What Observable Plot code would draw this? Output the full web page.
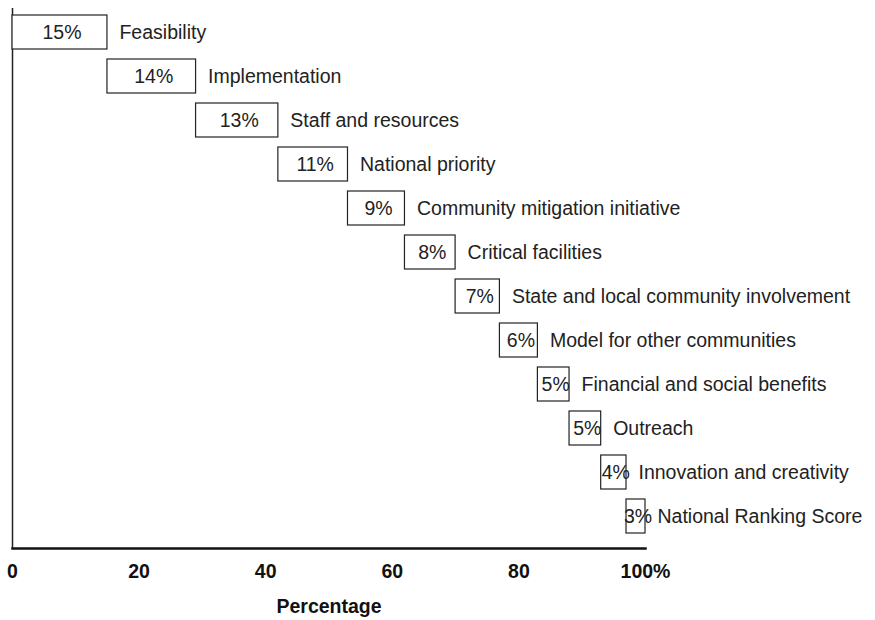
<!DOCTYPE html>
<html>
<head>
<meta charset="utf-8">
<script src="https://cdn.jsdelivr.net/npm/d3@7"></script>
<script src="https://cdn.jsdelivr.net/npm/@observablehq/plot@0.6"></script>
<style>
  html, body { margin: 0; padding: 0; background: #fff; }
</style>
</head>
<body>
<div id="chart"></div>
<script>
const labels = [
  "Feasibility",
  "Implementation",
  "Staff and resources",
  "National priority",
  "Community mitigation initiative",
  "Critical facilities",
  "State and local community involvement",
  "Model for other communities",
  "Financial and social benefits",
  "Outreach",
  "Innovation and creativity",
  "National Ranking Score"
];
const values = [15, 14, 13, 11, 9, 8, 7, 6, 5, 5, 4, 3];
const xTicks = [0, 20, 40, 60, 80, 100];

const rows = labels.map((label, i) => ({
  label,
  value: values[i],
  start: d3.sum(values.slice(0, i)),
  end: d3.sum(values.slice(0, i + 1))
}));

const chart = Plot.plot({
  width: 875,
  height: 620,
  marginLeft: 12,
  marginRight: 230,
  marginTop: 8,
  marginBottom: 72,
  style: { fontFamily: "'Liberation Sans', Arial, Helvetica, sans-serif", fontSize: "19.5px", background: "white", color: "#222" },
  x: { domain: [0, 100] },
  y: { domain: labels, range: [7, 542], paddingInner: 0.222, paddingOuter: 0.135, axis: null },
  marks: [
    Plot.ruleX([0], { stroke: "#222", strokeWidth: 1.5 }),
    Plot.frame({ anchor: "bottom", stroke: "#111", strokeWidth: 2.5 }),
    Plot.barX(rows, { x1: "start", x2: "end", y: "label", fill: "white", stroke: "#222", strokeWidth: 1.2 }),
    Plot.text(rows, { x: d => (d.start + d.end) / 2, y: "label", text: d => d.value + "%", dx: 2, fontSize: 19.5, fill: "#222" }),
    Plot.text(rows, { x: "end", y: "label", text: "label", textAnchor: "start", dx: 12, fontSize: 19.5, fill: "#222" }),
    Plot.axisX({
      ticks: xTicks,
      tickSize: 0,
      tickPadding: 16,
      tickFormat: d => d === 100 ? "100%" : String(d),
      fontWeight: "bold",
      fontSize: 19.5,
      fill: "#111",
      label: "Percentage",
      labelArrow: "none",
      labelAnchor: "center",
      labelOffset: 64
    })
  ]
});
document.getElementById("chart").append(chart);
</script>
</body>
</html>
